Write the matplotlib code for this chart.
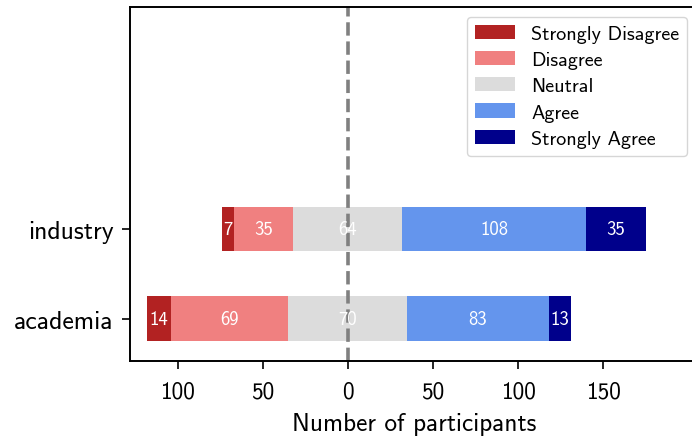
import numpy as np
import matplotlib
matplotlib.use("Agg")
import matplotlib.pyplot as plt
from matplotlib.ticker import FuncFormatter

plt.rcParams['font.family'] = ['cmss10', 'DejaVu Sans']
plt.rcParams['axes.unicode_minus'] = False

# --- Daten ---
groups = ["academia", "industry"]
levels = ["Strongly Disagree", "Disagree", "Neutral", "Agree", "Strongly Agree"]
strongly_disagree = [14, 7]
disagree = [69, 35]
neutral = [70, 64]
agree = [83, 108]
strongly_agree = [13, 35]

colors = ["firebrick", "lightcoral", "gainsboro", "cornflowerblue", "darkblue"]

counts = np.array([strongly_disagree, disagree, neutral, agree, strongly_agree], dtype=float)

# linke Kante: Neutral um 0 zentriert
starts = -counts[0] - counts[1] - counts[2] / 2

fig = plt.figure(figsize=(6.92, 4.39), dpi=100)
ax = fig.add_axes([0.188, 0.175, 0.82, 0.807])

y = np.arange(len(groups))
left = starts.copy()
for i, lvl in enumerate(levels):
    bars = ax.barh(y, counts[i], left=left, height=0.5, color=colors[i], label=lvl)
    for j, b in enumerate(bars):
        ax.text(left[j] + counts[i][j] / 2, y[j], f"{int(counts[i][j])}",
                ha='center', va='center', color='white', fontsize=13.5)
    left = left + counts[i]

ax.axvline(0, color='gray', linestyle='--', linewidth=2.6)

ax.set_yticks(y)
ax.set_yticklabels(groups, fontsize=18.5)
ax.set_xticks([-100, -50, 0, 50, 100, 150])
ax.xaxis.set_major_formatter(FuncFormatter(lambda v, p: f"{abs(int(v))}"))
ax.tick_params(axis='x', labelsize=16.8, length=6, width=1.2, pad=8)
ax.tick_params(axis='y', length=6, width=1.2, pad=6)
ax.set_xlim(-128, 205.5)
ax.set_ylim(-0.47, 3.47)
ax.set_xlabel("Number of participants", fontsize=18.2, labelpad=7)
for s in ax.spines.values():
    s.set_linewidth(1.4)

ax.legend(loc='upper right', fontsize=14.5, labelspacing=0.4, borderaxespad=0.5,
          handlelength=2.0)

fig.savefig("out.png", dpi=100)
